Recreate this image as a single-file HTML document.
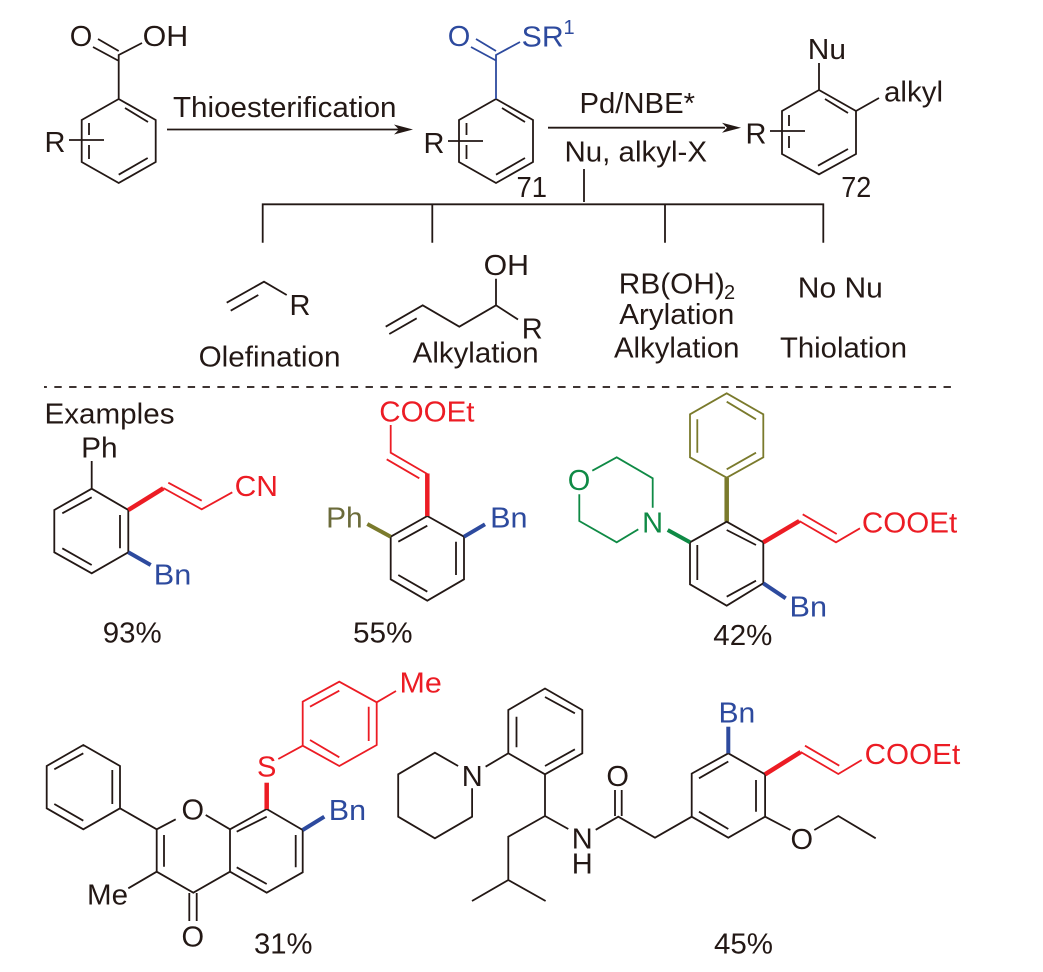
<!DOCTYPE html>
<html><head><meta charset="utf-8"><style>
html,body{margin:0;padding:0;background:#fff;width:1043px;height:972px;overflow:hidden}
svg{display:block}
text{font-family:"Liberation Sans",sans-serif;font-size:29px;fill:#231815}
.k{fill:none;stroke:#231815;stroke-width:1.8}
.b{fill:none;stroke:#2d4a9e;stroke-width:1.8}
.r{fill:none;stroke:#ec1c24;stroke-width:1.8}
.g{fill:none;stroke:#0f8a45;stroke-width:1.8}
.o{fill:none;stroke:#7a7a2c;stroke-width:1.8}
.tb{fill:#2d4a9e}.tr{fill:#ec1c24}.tg{fill:#0f8a45}.to{fill:#6b6b3a}
</style></head><body>
<svg width="1043" height="972" viewBox="0 0 1043 972" xmlns="http://www.w3.org/2000/svg">
<!-- top left -->
<path class="k" d="M118.7 99L155.7 120V162L118.7 183L81.7 162V120ZM125 108L148 122M118.7 174.7L147.7 158M89 123V135M89 145V159M69 140H104M118.7 99V55L142 43M93 47L118 60.5M98 39L118.7 51"/>
<text x="69.8" y="46">O</text>
<text x="142.6" y="46" textLength="45.6" lengthAdjust="spacingAndGlyphs">OH</text>
<text x="44.5" y="152">R</text>
<text x="173" y="117" textLength="223.5" lengthAdjust="spacingAndGlyphs">Thioesterification</text>
<path class="k" d="M167 129.5H402"/><path fill="#231815" d="M394 124.5L413 129.5L394 134.5L399 129.5Z"/>
<!-- top middle -->
<path class="k" d="M496 99L533 120V162L496 183L459 162V120ZM502 108L525 122M496 174.7L525 158M466.5 123V135M466.5 145V159M448 141H483"/>
<path class="b" d="M496 99V55L520 42M471 47L496 60.5M476 39L496 51"/>
<text class="tb" x="447.8" y="46">O</text>
<text class="tb" x="521.7" y="46.5" textLength="42" lengthAdjust="spacingAndGlyphs">SR</text>
<text class="tb" x="563.5" y="34" style="font-size:20px">1</text>
<text x="423.5" y="153">R</text>
<text x="516.5" y="197" textLength="30.5" lengthAdjust="spacingAndGlyphs">71</text>
<path class="k" d="M548 127.7H725"/><path fill="#231815" d="M722 122.7L741 127.7L722 132.7L727 127.7Z"/>
<text x="579.5" y="113" textLength="115.5" lengthAdjust="spacingAndGlyphs">Pd/NBE*</text>
<text x="564.5" y="161.7" textLength="142.5" lengthAdjust="spacingAndGlyphs">Nu, alkyl-X</text>
<path class="k" d="M584 169V202M262.7 242.7V204.3H823.3V242.7M432.3 204.3V242.7M665 204.3V242.7"/>
<!-- top right -->
<path class="k" d="M819 90L856 111V154L819 174.3L782 154V111ZM825 99L848 113M818 165.7L848 149M789 115V126M789 136V148M770 131H805M819 90V63M856 111L879 98"/>
<text x="807.8" y="59" textLength="38.2" lengthAdjust="spacingAndGlyphs">Nu</text>
<text x="884" y="101.7" textLength="59" lengthAdjust="spacingAndGlyphs">alkyl</text>
<text x="745.5" y="143.3">R</text>
<text x="841.3" y="197" textLength="30" lengthAdjust="spacingAndGlyphs">72</text>
<!-- reagents -->
<path class="k" d="M226.7 302.7L264 281.7L286.7 295M230.7 310.7L258.3 295"/>
<text x="289.5" y="315">R</text>
<text x="198.6" y="366.7" textLength="141.9" lengthAdjust="spacingAndGlyphs">Olefination</text>
<path class="k" d="M385.7 326.7L422.7 305.3L459.3 326.7L496 305.3L518 319.5M389.3 334L416.7 318.3M496 305.3V278.7"/>
<text x="483.6" y="275" textLength="45.4" lengthAdjust="spacingAndGlyphs">OH</text>
<text x="521.8" y="338.3">R</text>
<text x="412.7" y="362.7" textLength="126" lengthAdjust="spacingAndGlyphs">Alkylation</text>
<text x="618.8" y="293.3" textLength="106" lengthAdjust="spacingAndGlyphs">RB(OH)</text>
<text x="724" y="299" style="font-size:20px">2</text>
<text x="619.3" y="324" textLength="115" lengthAdjust="spacingAndGlyphs">Arylation</text>
<text x="614" y="357.7" textLength="125.5" lengthAdjust="spacingAndGlyphs">Alkylation</text>
<text x="797.8" y="297.3" textLength="85" lengthAdjust="spacingAndGlyphs">No Nu</text>
<text x="780" y="357.7" textLength="127" lengthAdjust="spacingAndGlyphs">Thiolation</text>
<path class="k" stroke-dasharray="7.4 7.42" stroke-dashoffset="4.5" d="M44 387H951"/>
<text x="44.5" y="423.3" textLength="130" lengthAdjust="spacingAndGlyphs">Examples</text>
<!-- A -->
<path class="k" d="M91.7 488.7L128.3 510V552.3L91.7 573.3L54.3 552.3V510ZM62.3 513.3L91.7 497.3M120 515V548.3M62.3 548.3L91.7 565M91.7 488.7V461"/>
<text x="81.1" y="457.7" textLength="36.5" lengthAdjust="spacingAndGlyphs">Ph</text>
<path class="r" d="M163.3 488L201.7 509.3L232.3 492.3M168.3 482.7L201.7 500.7"/>
<path class="r" style="stroke-width:4.5" d="M128.3 510L163.3 488.3"/>
<path class="b" style="stroke-width:4" d="M128.3 552.3L150.7 565"/>
<text class="tr" x="234.6" y="496" textLength="43.4" lengthAdjust="spacingAndGlyphs">CN</text>
<text class="tb" x="153.8" y="584.3" textLength="37.5" lengthAdjust="spacingAndGlyphs">Bn</text>
<text x="102.8" y="642.3" textLength="58.9" lengthAdjust="spacingAndGlyphs">93%</text>
<!-- B -->
<path class="k" d="M427.3 516L464 536.7V579.3L427.3 600.7L390.7 579.3V536.7ZM398.3 541.7L427.3 525.7M456 541.7V575M398.3 575L427.3 591.7"/>
<path class="r" d="M427.3 474L390.7 452.7V425M419.3 478.3L386.7 459.3"/>
<path class="r" style="stroke-width:4.5" d="M427.3 516V473.5"/>
<path class="o" style="stroke-width:4" d="M390.7 536.7L367.3 524"/>
<path class="b" style="stroke-width:4" d="M464 536.7L485 524.3"/>
<text class="tr" x="379.3" y="421.7" textLength="95.2" lengthAdjust="spacingAndGlyphs">COOEt</text>
<text class="to" x="326.1" y="527.7" textLength="36.6" lengthAdjust="spacingAndGlyphs">Ph</text>
<text class="tb" x="490.1" y="527.7" textLength="37.4" lengthAdjust="spacingAndGlyphs">Bn</text>
<text x="353" y="642.3" textLength="59.5" lengthAdjust="spacingAndGlyphs">55%</text>
<!-- C -->
<path class="o" d="M726.7 393.3L763.3 414.3V457.3L726.7 477.7L690 457.3V414.3ZM726.7 401.7L756 419.3M697.3 419.3V452.7M726.7 469.3L756 452.7"/>
<path class="o" style="stroke-width:4.5" d="M726.7 477.7V521.7"/>
<path class="k" d="M726.7 521.7L763.3 542.3V583.3L726.7 605.7L690 584.3V542.3ZM726.7 530L756 545M697.3 545V580M726.7 596.7L756 580.7"/>
<path class="r" d="M799.3 521L836 542.3L860 528.3M802.7 514.3L836.7 534"/>
<path class="r" style="stroke-width:4.5" d="M763.3 542.3L799.3 521"/>
<path class="b" style="stroke-width:4" d="M763.3 583.3L785.7 598.3"/>
<path class="g" style="stroke-width:4" d="M690 542.3L667.7 530"/>
<path class="g" d="M652.7 507.7V478.3L616.7 457.3L592.3 470.7M579.3 494.3V521L616.7 542.3L638.3 529.3"/>
<text class="tg" x="642.1" y="532.7">N</text>
<text class="tg" x="567.8" y="490">O</text>
<text class="tr" x="861.9" y="532.3" textLength="95.3" lengthAdjust="spacingAndGlyphs">COOEt</text>
<text class="tb" x="789.5" y="616.7" textLength="37.5" lengthAdjust="spacingAndGlyphs">Bn</text>
<text x="713.3" y="645" textLength="59" lengthAdjust="spacingAndGlyphs">42%</text>
<!-- D -->
<path class="k" d="M83.3 745L120 766V808.3L83.3 829.3L46.7 808.3V766ZM54.3 769.3L83.3 753.3M112.3 770V804M54.3 804L83.3 820.7M120 808.3L156.7 829.3L175.7 819.3M205.7 815L230 829.3L266.7 809L302.7 830V872.3L266.7 892.7L230 871.7L193.3 892.7L156.7 871.7V829.3M230 829.3V871.7M164 835V866.7M189.3 893V921M196.7 893V921M236.7 831.7L266.7 816.7M295.7 835V867.3M236.7 867.3L266.7 884M156.7 871.7L128.3 888.3"/>
<text x="181.5" y="819.3">O</text>
<text x="181.5" y="946.7">O</text>
<text x="87" y="904.3" textLength="41" lengthAdjust="spacingAndGlyphs">Me</text>
<path class="r" d="M278.3 759L302.7 745.7V701.7L339.3 681.7L376.7 702.3V745L339.3 766L302.7 745.7M310 706.7L339.3 690.7M368.7 706.7V741M310 740L339.3 757.3M376.7 702.3L396 691"/>
<path class="r" style="stroke-width:4.5" d="M266.7 809V782.7"/>
<path class="b" style="stroke-width:4" d="M302.7 830L324.3 816.7"/>
<text class="tr" x="257" y="776.7">S</text>
<text class="tr" x="399.5" y="692.7" textLength="42.3" lengthAdjust="spacingAndGlyphs">Me</text>
<text class="tb" x="328.8" y="820" textLength="37.3" lengthAdjust="spacingAndGlyphs">Bn</text>
<text x="254" y="953.3" textLength="58.5" lengthAdjust="spacingAndGlyphs">31%</text>
<!-- E -->
<path class="k" d="M458.1 766L434.9 752.7L398.2 774.3V816.7L434.9 838.3L472.1 816.7V788.3M485.6 766.7L508.3 753.3V710L545 688.5L582.3 710V753.3L545 774.3L508.3 753.3M516.5 716.7V747.3M545 697L574.9 713.3M545 766L574.9 749.3M545 774.3V816L568.3 829M545 816L508.3 836.7V880L472 901M508.3 880L545.6 901M595.7 829.8L618.3 816.7L655 837.7L691.7 816.7V773.6L728.3 753.3L765.1 774.3V816.7L728.3 837.7L691.7 816.7M615 790V816M621.7 790V816M699 778.3L728.3 761.5M756 780V811.7M699 811.7L728.3 829M765.1 816.7L790.5 830M814.3 830L838.3 816L875.7 838.3"/>
<text x="461.8" y="786">N</text>
<text x="571.8" y="848.5">N</text>
<text x="571.8" y="873.3">H</text>
<text x="606.4" y="786">O</text>
<text x="790.5" y="849">O</text>
<path class="b" style="stroke-width:4" d="M728.3 753.3V726.7"/>
<text class="tb" x="718.5" y="722.3" textLength="36.8" lengthAdjust="spacingAndGlyphs">Bn</text>
<path class="r" d="M800.7 752L838.3 774L861.7 760M805 745.7L839.3 765.7"/>
<path class="r" style="stroke-width:4.5" d="M765.1 774.3L800.7 752"/>
<text class="tr" x="864.6" y="764" textLength="95.6" lengthAdjust="spacingAndGlyphs">COOEt</text>
<text x="714" y="953.3" textLength="59" lengthAdjust="spacingAndGlyphs">45%</text>
</svg>
</body></html>
